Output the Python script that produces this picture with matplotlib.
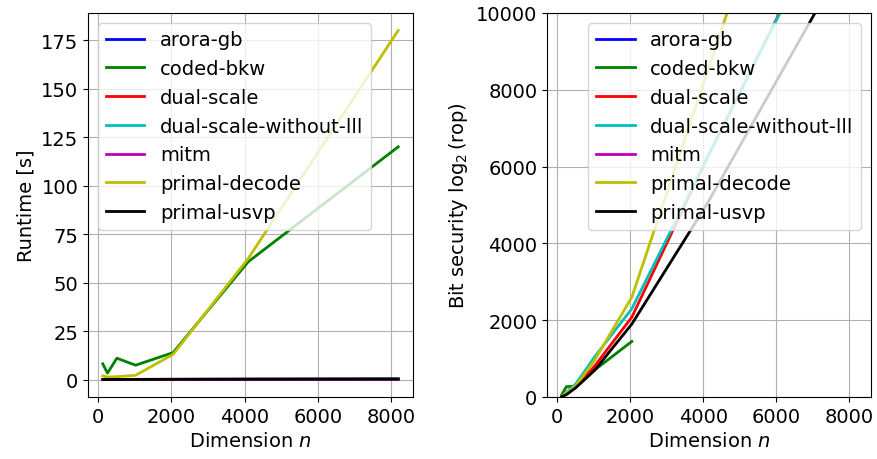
import matplotlib
matplotlib.use("Agg")
import matplotlib.pyplot as plt
import numpy as np

plt.rcParams["font.size"] = 14
plt.rcParams["lines.linewidth"] = 2

# lattice dimensions that were benchmarked
n = [128, 256, 512, 1024, 2048, 4096, 8192]

attacks = ["arora-gb", "coded-bkw", "dual-scale", "dual-scale-without-lll",
           "mitm", "primal-decode", "primal-usvp"]
colors = ["b", "g", "r", "c", "m", "y", "k"]

# estimator runtime per attack [s]
runtime = {
    "arora-gb":               [0.01, 0.01, 0.01, 0.02, 0.03, 0.05, 0.1],
    "coded-bkw":              [8.1, 3.3, 11.0, 7.4, 13.9, 60.7, 120.0],
    "dual-scale":             [0.05, 0.06, 0.08, 0.1, 0.15, 0.25, 0.4],
    "dual-scale-without-lll": [0.04, 0.05, 0.07, 0.09, 0.13, 0.2, 0.35],
    "mitm":                   [0.01, 0.01, 0.01, 0.01, 0.02, 0.03, 0.05],
    "primal-decode":          [1.9, 1.3, 1.5, 2.2, 13.0, 62.4, 180.0],
    "primal-usvp":            [0.03, 0.04, 0.05, 0.08, 0.12, 0.2, 0.3],
}

# estimated cost, log2(rop); arora-gb and mitm lie far above the plotted range
bits = {
    "arora-gb":               [np.nan] * 7,
    "coded-bkw":              [60, 270, 280, 700, 1447, np.nan, np.nan],
    "dual-scale":             [20, 100, 270, 800, 2080, 6200, 14000],
    "dual-scale-without-lll": [20, 120, 340, 1040, 2300, 6190, 13970],
    "mitm":                   [np.nan] * 7,
    "primal-decode":          [20, 100, 290, 950, 2600, 8420, 20000],
    "primal-usvp":            [10, 60, 240, 690, 1900, 5010, 11900],
}

fig = plt.figure(figsize=(8.77, 4.6), dpi=100)
bottom, height = 0.1348, 0.9696 - 0.1348
ax1 = fig.add_axes([88 / 877, bottom, (413 - 88) / 877, height])
ax2 = fig.add_axes([547 / 877, bottom, (871 - 547) / 877, height])

for name, c in zip(attacks, colors):
    ax1.plot(n, runtime[name], color=c, label=name)
    ax2.plot(n, bits[name], color=c, label=name)

ax1.set_xlabel("Dimension $n$")
ax1.set_ylabel("Runtime [s]")
ax1.grid(True)
ax1.legend(loc="upper left")

ax2.set_xlabel("Dimension $n$")
ax2.set_ylabel(r"Bit security $\log_2(\mathrm{rop})$")
ax2.set_ylim(0, 10000)
ax2.grid(True)
ax2.legend(loc="upper right")

fig.savefig("out.png", dpi=100)
